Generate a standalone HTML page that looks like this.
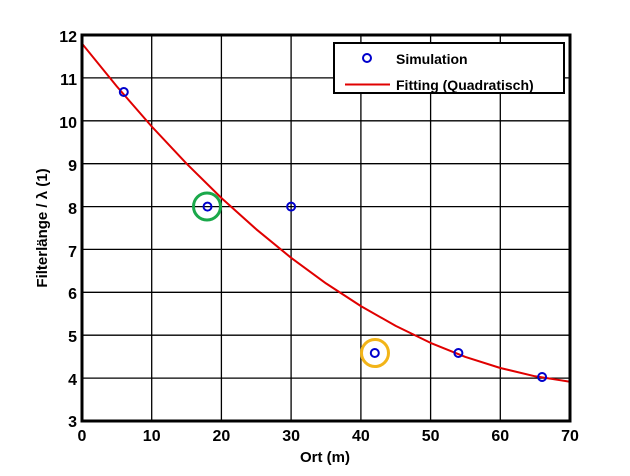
<!DOCTYPE html>
<html><head><meta charset="utf-8"><style>body{margin:0;background:#fff}svg{display:block}</style></head>
<body>
<svg width="630" height="476" viewBox="0 0 630 476" xmlns="http://www.w3.org/2000/svg" font-family="Liberation Sans, sans-serif" font-weight="bold">
<rect width="630" height="476" fill="#fff"/>
<defs><clipPath id="c"><rect x="82" y="35" width="488" height="386"/></clipPath></defs>
<g stroke="#000" stroke-width="1.3">
<line x1="151.7" y1="35" x2="151.7" y2="421"/><line x1="221.4" y1="35" x2="221.4" y2="421"/><line x1="291.1" y1="35" x2="291.1" y2="421"/><line x1="360.9" y1="35" x2="360.9" y2="421"/><line x1="430.6" y1="35" x2="430.6" y2="421"/><line x1="500.3" y1="35" x2="500.3" y2="421"/>
<line x1="82" y1="77.9" x2="570" y2="77.9"/><line x1="82" y1="120.8" x2="570" y2="120.8"/><line x1="82" y1="163.7" x2="570" y2="163.7"/><line x1="82" y1="206.6" x2="570" y2="206.6"/><line x1="82" y1="249.4" x2="570" y2="249.4"/><line x1="82" y1="292.3" x2="570" y2="292.3"/><line x1="82" y1="335.2" x2="570" y2="335.2"/><line x1="82" y1="378.1" x2="570" y2="378.1"/>
</g>
<polyline clip-path="url(#c)" fill="none" stroke="#e00000" stroke-width="2" stroke-linejoin="round" points="82,43.6 116.9,86.5 151.7,126.5 186.6,163.7 221.4,198 256.3,229.3 291.1,257.8 326,283.4 360.9,306.1 395.7,325.9 430.6,342.9 465.4,356.9 500.3,368 535.1,376.3 570,381.7"/>
<rect x="82" y="35" width="488" height="386" fill="none" stroke="#000" stroke-width="3"/>
<g fill="none" stroke="#0000cc" stroke-width="2">
<circle cx="123.8" cy="92" r="4"/><circle cx="207.5" cy="206.6" r="4"/><circle cx="291.1" cy="206.6" r="4"/><circle cx="374.8" cy="353" r="4"/><circle cx="458.4" cy="353" r="4"/><circle cx="542.1" cy="377" r="4"/>
</g>
<circle cx="207" cy="206.5" r="13.5" fill="none" stroke="#1aa84a" stroke-width="3"/>
<circle cx="375" cy="353" r="13.5" fill="none" stroke="#f2b418" stroke-width="3"/>
<rect x="334" y="43" width="230" height="50" fill="#fff" stroke="#000" stroke-width="2"/>
<circle cx="367" cy="58" r="4" fill="none" stroke="#0000cc" stroke-width="2"/>
<line x1="345" y1="84.5" x2="390" y2="84.5" stroke="#e00000" stroke-width="2"/>
<text x="396" y="64" font-size="14">Simulation</text>
<text x="396" y="90" font-size="14">Fitting (Quadratisch)</text>
<g font-size="16" text-anchor="end">
<text x="77" y="42">12</text><text x="77" y="85">11</text><text x="77" y="128">10</text><text x="77" y="171">9</text><text x="77" y="214">8</text><text x="77" y="257">7</text><text x="77" y="299">6</text><text x="77" y="342">5</text><text x="77" y="385">4</text><text x="77" y="427">3</text>
</g>
<g font-size="16" text-anchor="middle">
<text x="82" y="441">0</text><text x="151.7" y="441">10</text><text x="221.4" y="441">20</text><text x="291.1" y="441">30</text><text x="360.9" y="441">40</text><text x="430.6" y="441">50</text><text x="500.3" y="441">60</text><text x="570" y="441">70</text>
</g>
<text x="325" y="462" font-size="15" text-anchor="middle">Ort (m)</text>
<text transform="translate(47,228) rotate(-90)" font-size="15" text-anchor="middle">Filterlänge / λ (1)</text>
</svg>
</body></html>
